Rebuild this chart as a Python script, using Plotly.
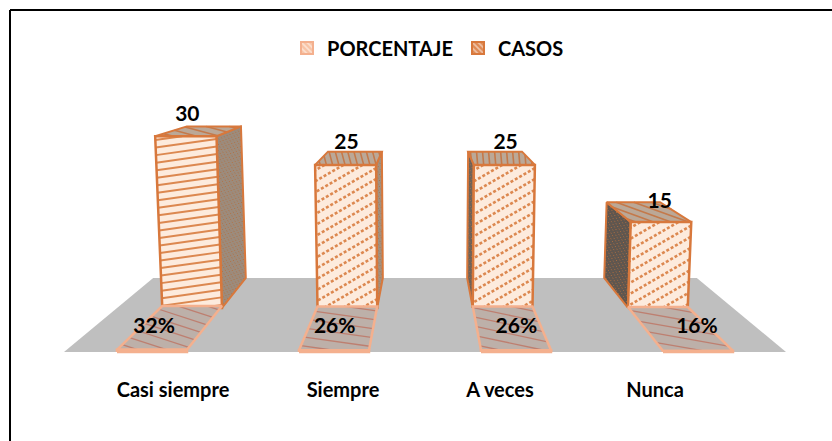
"""3D style bar chart: casos y porcentaje por categoria."""
from __future__ import annotations

import math

import plotly.graph_objects as go

CATEGORIES = ["Casi siempre", "Siempre", "A veces", "Nunca"]
CASOS = [30, 25, 25, 15]
PORCENTAJE = [32, 26, 26, 16]

# tick label centres and label nudges, in page pixels
TICK_X = [173, 343, 500, 655]
CASOS_LABEL_DX = [-16, -5, 7, 16]
CASOS_LABEL_DY = [-11, -8, -8, 1]
PCT_LABEL_DX = [-18, -6, 7, 19]

# fake camera: vanishing point and per-unit scale of the column height
VANISH_X, VANISH_Y = 425, 52
FLOOR_SPAN = 300
UNIT_PX = 5.72
SPREAD = 0.0009
DEPTH_FRONT, DEPTH_MID, DEPTH_BACK = 1.0, 0.853, 0.753
SLOT = 182
BAR_W = 70
FLOOR_HALF = 361

ORANGE = "#D8783C"
SALMON = "#F4B08E"
CREAM = "#FDEBDD"
FONT = "Lato"

FRONT_SLOPE = [-8, -30, -30, -30]
FRONT_GAP = [7.5, 9.5, 9.5, 9.5]
FRONT_DASH = ["solid", "3px,2px", "3px,2px", "3px,2px"]
FRONT_WIDTH = [2.0, 2.6, 2.6, 2.6]
SIDE_FILL = ["#9C8B7C", "#A29180", "#6E635A", "#5F564F"]
TOP_SLOPE = [15, 75, 85, 20]
PATCH_SLOPE = [18, 8, 12, 10]


def project(x_world, depth, height):
    px = VANISH_X + x_world * depth * (1 + SPREAD * height)
    py = VANISH_Y + FLOOR_SPAN * depth - height * UNIT_PX * depth / DEPTH_MID
    return px, py


def hatch_lines(poly, slope_deg, gap):
    """Parallel lines clipped to a convex polygon, None separated."""
    ang = math.radians(slope_deg)
    ux, uy = math.cos(ang), math.sin(ang)
    nx, ny = -uy, ux
    offs = [p[0] * nx + p[1] * ny for p in poly]
    xs, ys = [], []
    off = min(offs) + gap / 2
    while off < max(offs):
        hits = []
        for a, b in zip(poly, poly[1:] + poly[:1]):
            da = a[0] * nx + a[1] * ny - off
            db = b[0] * nx + b[1] * ny - off
            if da * db < 0:
                t = da / (da - db)
                hits.append((a[0] + t * (b[0] - a[0]), a[1] + t * (b[1] - a[1])))
        if len(hits) == 2:
            xs += [hits[0][0], hits[1][0], None]
            ys += [hits[0][1], hits[1][1], None]
        off += gap
    return xs, ys


def add_face(fig, poly, fill, edge, edge_w, hatch_color, slope, gap, hatch_w=1.0, dash="solid"):
    xs = [p[0] for p in poly] + [poly[0][0]]
    ys = [p[1] for p in poly] + [poly[0][1]]
    fig.add_trace(go.Scatter(x=xs, y=ys, mode="lines", fill="toself", fillcolor=fill,
                             line=dict(width=0), hoverinfo="skip", showlegend=False))
    hx, hy = hatch_lines(poly, slope, gap)
    fig.add_trace(go.Scatter(x=hx, y=hy, mode="lines", hoverinfo="skip", showlegend=False,
                             line=dict(color=hatch_color, width=hatch_w, dash=dash)))
    fig.add_trace(go.Scatter(x=xs, y=ys, mode="lines", hoverinfo="skip", showlegend=False,
                             line=dict(color=edge, width=edge_w)))


fig = go.Figure()

# floor
floor = [project(-FLOOR_HALF, DEPTH_FRONT, 0), project(FLOOR_HALF, DEPTH_FRONT, 0),
         project(FLOOR_HALF, DEPTH_BACK, 0), project(-FLOOR_HALF, DEPTH_BACK, 0)]
fig.add_trace(go.Scatter(x=[p[0] for p in floor], y=[p[1] for p in floor], mode="lines",
                         fill="toself", fillcolor="#BFBFBF", line=dict(width=0),
                         hoverinfo="skip", showlegend=False))

for i, _ in enumerate(CATEGORIES):
    center = (i - 1.5) * SLOT
    left, right = center - BAR_W / 2, center + BAR_W / 2

    # back row: CASOS columns
    h = CASOS[i]
    side_x = left if center > 0 else right
    side = [project(side_x, DEPTH_MID, 0), project(side_x, DEPTH_MID, h),
            project(side_x, DEPTH_BACK, h), project(side_x, DEPTH_BACK, 0)]
    add_face(fig, side, SIDE_FILL[i], ORANGE, 2, "#B5703F", 60, 3, 1.0, "1px,2px")
    top = [project(left, DEPTH_MID, h), project(right, DEPTH_MID, h),
           project(right, DEPTH_BACK, h), project(left, DEPTH_BACK, h)]
    add_face(fig, top, "#BBA897", ORANGE, 2, "#C4794A", TOP_SLOPE[i], 6, 1.6)
    front = [project(left, DEPTH_MID, 0), project(right, DEPTH_MID, 0),
             project(right, DEPTH_MID, h), project(left, DEPTH_MID, h)]
    add_face(fig, front, CREAM, ORANGE, 2.5, "#DC8850", FRONT_SLOPE[i], FRONT_GAP[i],
             FRONT_WIDTH[i], FRONT_DASH[i])

    # front row: PORCENTAJE lies almost flat on the floor
    h = PORCENTAJE[i] / 100
    patch = [project(left, DEPTH_FRONT, h), project(right, DEPTH_FRONT, h),
             project(right, DEPTH_MID, h), project(left, DEPTH_MID, h)]
    add_face(fig, patch, "#BDB0A9", SALMON, 2.5, "#BE7F70", PATCH_SLOPE[i], 9, 1.3)
    base = [project(left, DEPTH_FRONT, 0), project(right, DEPTH_FRONT, 0),
            project(right, DEPTH_FRONT, h), project(left, DEPTH_FRONT, h)]
    add_face(fig, base, SALMON, SALMON, 2.5, SALMON, 0, 2, 0.5)

# data labels
casos_x, casos_y, pct_x, pct_y = [], [], [], []
for i, val in enumerate(CASOS):
    center = (i - 1.5) * SLOT
    px, py = project(center, DEPTH_BACK, val)
    casos_x.append(px + CASOS_LABEL_DX[i] + (px - VANISH_X) * 0.05)
    casos_y.append(py + CASOS_LABEL_DY[i])
    px, py = project(center, (DEPTH_FRONT + DEPTH_MID) / 2, 0)
    pct_x.append(px + PCT_LABEL_DX[i])
    pct_y.append(py - 2)

label_font = dict(family=FONT, size=21, color="#000000", weight=700)
fig.add_trace(go.Scatter(x=casos_x, y=casos_y, mode="text", text=[str(v) for v in CASOS],
                         textposition="middle center", textfont=label_font,
                         hoverinfo="skip", showlegend=False))
fig.add_trace(go.Scatter(x=pct_x, y=pct_y, mode="text", text=[f"{v}%" for v in PORCENTAJE],
                         textposition="middle center", textfont=label_font,
                         hoverinfo="skip", showlegend=False))

# legend entries, the real marks are drawn above
fig.add_trace(go.Bar(x=[None], y=[None], name="PORCENTAJE",
                     marker=dict(color="#FBD5BF", line=dict(color=SALMON, width=2),
                                 pattern=dict(shape="\\", fgcolor="#FFFFFF", bgcolor="#F8C4A6",
                                              size=5, solidity=0.4))))
fig.add_trace(go.Bar(x=[None], y=[None], name="CASOS",
                     marker=dict(color="#E9A77D", line=dict(color=ORANGE, width=2),
                                 pattern=dict(shape="\\", fgcolor="#FFFFFF", bgcolor="#DF8A55",
                                              size=5, solidity=0.4))))

fig.update_layout(
    width=832,
    height=441,
    autosize=False,
    margin=dict(l=0, r=0, t=0, b=67),
    paper_bgcolor="#FFFFFF",
    plot_bgcolor="#FFFFFF",
    font=dict(family=FONT, color="#000000"),
    xaxis=dict(range=[0, 832], showgrid=False, zeroline=False, showline=False, ticks="",
               tickmode="array", tickvals=TICK_X, ticktext=CATEGORIES, ticklabelstandoff=2,
               tickfont=dict(family=FONT, size=20, color="#000000", weight=700)),
    yaxis=dict(range=[374, 0], visible=False),
    legend=dict(orientation="h", x=287 / 832, xanchor="left", y=1 - 48 / 374, yanchor="middle",
                entrywidth=126, entrywidthmode="pixels", itemclick=False,
                font=dict(family=FONT, size=20, color="#000000", weight=700)),
    shapes=[
        dict(type="line", xref="paper", yref="paper", x0=10 / 832, x1=1, y0=1 - 10 / 374, y1=1 - 10 / 374,
             line=dict(color="#000000", width=2)),
        dict(type="line", xref="paper", yref="paper", x0=10 / 832, x1=10 / 832, y0=1 - 10 / 374, y1=-67 / 374,
             line=dict(color="#000000", width=2)),
    ],
)

fig.write_html("out.html", config={"displayModeBar": False},
               post_script="document.body.style.margin='0';")
